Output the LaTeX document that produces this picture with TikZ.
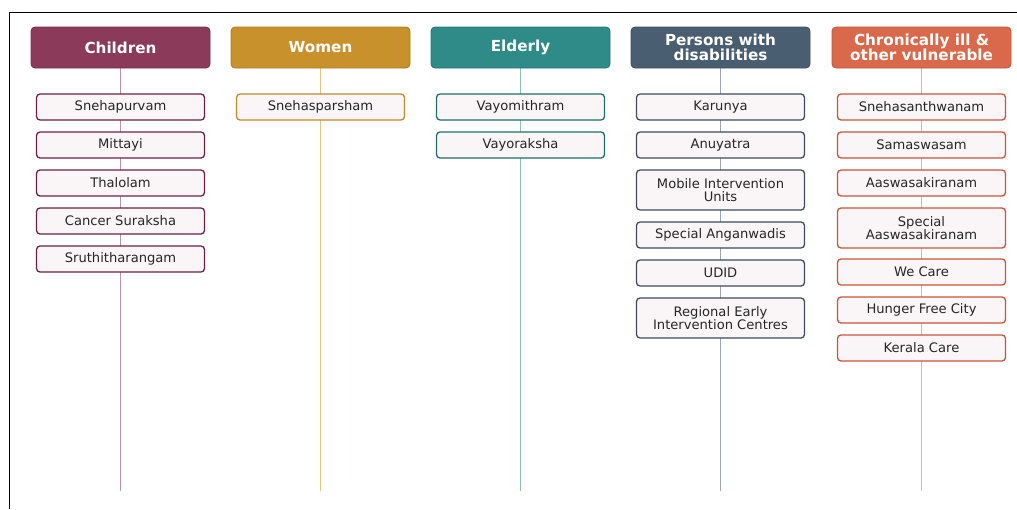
\documentclass[tikz,border=0pt]{standalone}
\usepackage{fontspec}
\setmainfont{DejaVu Sans}
\usetikzlibrary{backgrounds}
\definecolor{hA}{HTML}{8B3A5A}
\definecolor{bA}{HTML}{6E2141}
\definecolor{hB}{HTML}{C9912B}
\definecolor{bB}{HTML}{C08A2A}
\definecolor{hC}{HTML}{2E8B87}
\definecolor{bC}{HTML}{1F6E6A}
\definecolor{hD}{HTML}{4A5E72}
\definecolor{bD}{HTML}{3C4C5E}
\definecolor{hE}{HTML}{D9694A}
\definecolor{bE}{HTML}{C8553A}
\definecolor{itemfill}{HTML}{FAF5F7}
\tikzset{
  hdr/.style={draw=#1!85!black, fill=#1, rounded corners=4pt, line width=0.8pt,
    minimum width=179pt, minimum height=41pt, inner sep=1pt, align=center,
    text=white, font=\fontsize{15.2}{15}\selectfont\bfseries},
  itm/.style={draw=#1, fill=itemfill, rounded corners=3.5pt, line width=1.3pt,
    minimum width=168pt, minimum height=26pt, inner sep=1pt, align=center,
    text=black!85, font=\fontsize{13.1}{12.8}\selectfont},
  itmtwo/.style={itm=#1, minimum height=40pt},
  vline/.style={draw=#1!55!white, line width=1.4pt},
  frame/.style={draw=black, line width=1.8pt}
}
\begin{document}
\begin{tikzpicture}[x=1pt,y=-1pt]
\useasboundingbox (0,0) rectangle (1017,509);
\coordinate (fTL) at (9.5,12.5);
\coordinate (fBL) at (9.5,509);
\coordinate (fTR) at (1017,12.5);
\draw[frame] (fBL) -- (fTL) -- (fTR);

% headers
\node[hdr=hA] (hA) at (120.5,47.5) {Children};
\node[hdr=hB] (hB) at (320.5,47.5) {Women};
\node[hdr=hC] (hC) at (520.5,47.5) {Elderly};
\node[hdr=hD] (hD) at (720.5,47.5) {Persons with\\disabilities};
\node[hdr=hE] (hE) at (921.5,47.5) {Chronically ill \&\\other vulnerable};

% bottom ends
\coordinate (eA) at (120.5,491);
\coordinate (eB) at (320.5,491);
\coordinate (eC) at (520.5,491);
\coordinate (eD) at (720.5,491);
\coordinate (eE) at (921.5,491);

% Children
\node[itm=bA] (a1) at (120.5,107) {Snehapurvam};
\node[itm=bA] (a2) at (120.5,145) {Mittayi};
\node[itm=bA] (a3) at (120.5,183) {Thalolam};
\node[itm=bA] (a4) at (120.5,221) {Cancer Suraksha};
\node[itm=bA] (a5) at (120.5,259) {Sruthitharangam};

% Women
\node[itm=bB] (b1) at (320.5,107) {Snehasparsham};

% Elderly
\node[itm=bC] (c1) at (520.5,107) {Vayomithram};
\node[itm=bC] (c2) at (520.5,145) {Vayoraksha};

% Persons with disabilities
\node[itm=bD] (d1) at (720.5,107) {Karunya};
\node[itm=bD] (d2) at (720.5,145) {Anuyatra};
\node[itmtwo=bD] (d3) at (720.5,190) {Mobile Intervention\\Units};
\node[itm=bD] (d4) at (720.5,235) {Special Anganwadis};
\node[itm=bD] (d5) at (720.5,273) {UDID};
\node[itmtwo=bD] (d6) at (720.5,318) {Regional Early\\Intervention Centres};

% Chronically ill
\node[itm=bE] (e1) at (921.5,107) {Snehasanthwanam};
\node[itm=bE] (e2) at (921.5,145) {Samaswasam};
\node[itm=bE] (e3) at (921.5,183) {Aaswasakiranam};
\node[itmtwo=bE] (e4) at (921.5,228) {Special\\Aaswasakiranam};
\node[itm=bE] (e5) at (921.5,272) {We Care};
\node[itm=bE] (e6) at (921.5,310) {Hunger Free City};
\node[itm=bE] (e7) at (921.5,348) {Kerala Care};

\begin{pgfonlayer}{background}
\draw[vline=hA] (hA.south) -- (eA);
\draw[vline=hB] (hB.south) -- (eB);
\draw[vline=hC] (hC.south) -- (eC);
\draw[vline=hD] (hD.south) -- (eD);
\draw[vline=hE] (hE.south) -- (eE);
\end{pgfonlayer}
\end{tikzpicture}
\end{document}
